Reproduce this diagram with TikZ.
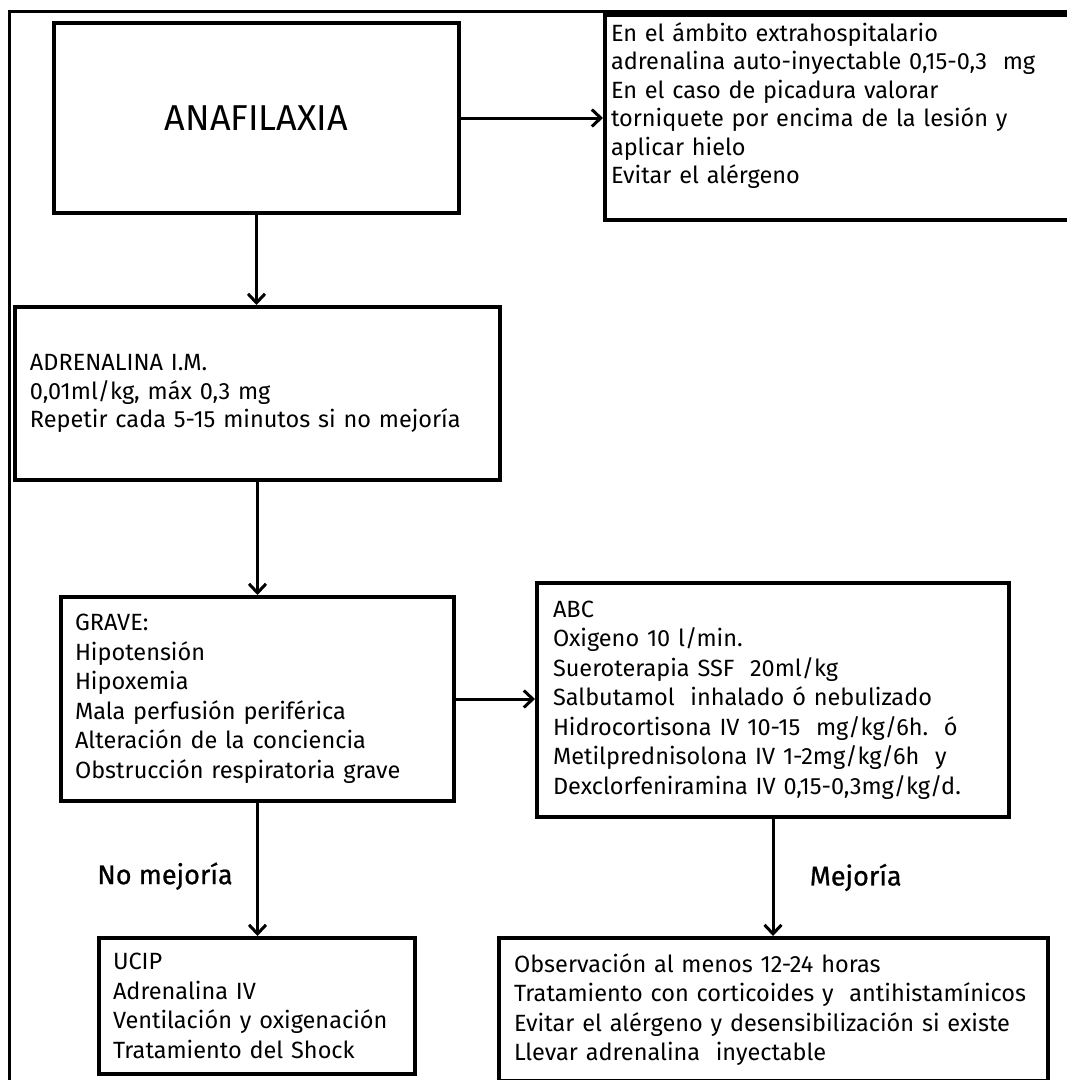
\documentclass[tikz,border=0pt]{standalone}
\usepackage{fontspec}
\setmainfont{Fira Sans}
\usetikzlibrary{arrows.meta, positioning}

\begin{document}
\begin{tikzpicture}[x=1pt, y=-1pt,
    box/.style={draw, line width=4pt, anchor=north west, align=left, inner ysep=4pt},
    txt/.style={font=\fontsize{23.5}{28.5}\selectfont},
    lst/.style={font=\fontsize{23.5}{29.5}\selectfont},
    arr/.style={line width=3pt, -{Straight Barb[length=9pt, width=17pt]}},
    lbl/.style={font=\fontsize{27}{30}\selectfont\addfontfeature{FakeBold=0.8}}]

\useasboundingbox (0,0) rectangle (1067,1080);

% marco exterior
\draw[line width=2.5pt] (9.5,1090) |- (1080,11.5);

% cajas
\node[box, minimum width=405pt, minimum height=190pt, align=center,
      font=\fontsize{36}{40}\selectfont] (anaf) at (52,21) {ANAFILAXIA};
\node[box, txt, inner xsep=6pt, text width=468pt, minimum height=205pt] (extra) at (603,13)
    {En el ámbito extrahospitalario\\
     adrenalina auto-inyectable 0,15-0,3\ \ mg\\
     En el caso de picadura valorar\\
     torniquete por encima de la lesión y\\
     aplicar hielo\\
     Evitar el alérgeno\\ \mbox{}};
\node[box, txt, inner xsep=15pt, text width=455pt, minimum height=173pt] (adren) at (13,305)
    {ADRENALINA I.M.\\
     0,01ml/kg, máx 0,3 mg\\
     Repetir cada 5-15 minutos si no mejoría};
\node[box, lst, inner xsep=14pt, text width=365pt, minimum height=204pt] (grave) at (59,595)
    {GRAVE:\\
     Hipotensión\\
     Hipoxemia\\
     Mala perfusión periférica\\
     Alteración de la conciencia\\
     Obstrucción respiratoria grave};
\node[box, lst, inner xsep=16pt, text width=440pt, minimum height=234pt] (abc) at (535,581)
    {ABC\\
     Oxigeno 10 l/min.\\
     Sueroterapia SSF\ \ 20ml/kg\\
     Salbutamol\ \ inhalado ó nebulizado\\
     Hidrocortisona IV 10-15\ \ mg/kg/6h.\ \ ó\\
     Metilprednisolona IV 1-2mg/kg/6h\ \ y\\
     Dexclorfeniramina IV 0,15-0,3mg/kg/d.};
\node[box, lst, inner xsep=14pt, text width=288pt, minimum height=136pt] (ucip) at (97,936)
    {UCIP\\
     Adrenalina IV\\
     Ventilación y oxigenación\\
     Tratamiento del Shock};
\node[box, lst, inner xsep=15pt, text width=519pt, minimum height=143pt] (obs) at (497,936)
    {Observación al menos 12-24 horas\\
     Tratamiento con corticoides y\ \ antihistamínicos\\
     Evitar el alérgeno y desensibilización si existe\\
     Llevar adrenalina\ \ inyectable};

% flechas
\draw[arr] (anaf.east) -- (anaf.east -| extra.west);
\draw[arr] (anaf.south) -- (anaf.south |- adren.north);
\draw[arr] (adren.south) -- (adren.south |- grave.north);
\draw[arr] (grave.east) -- (grave.east -| abc.west);
\draw[arr] (grave.south) -- node[lbl, pos=0.55, left=20pt] {No mejoría} (grave.south |- ucip.north);
\draw[arr] (abc.south) -- node[lbl, pos=0.5, right=32pt] {Mejoría} (abc.south |- obs.north);

\end{tikzpicture}
\end{document}
